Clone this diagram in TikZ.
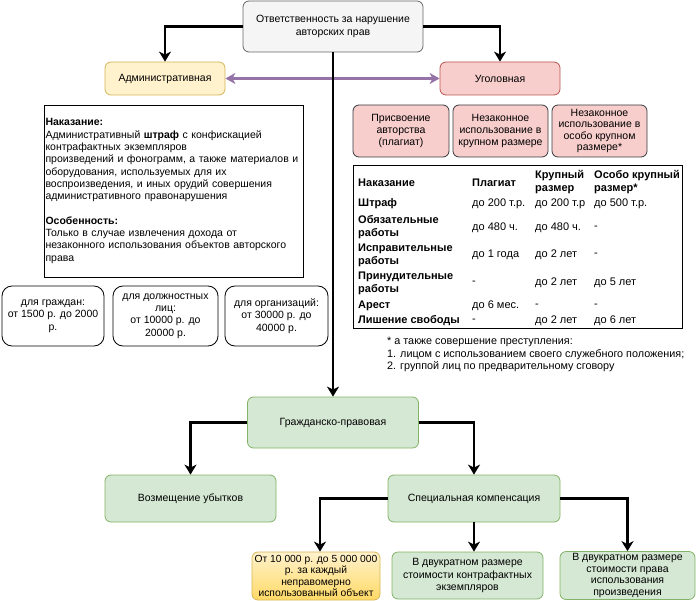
\documentclass[tikz,border=0pt]{standalone}
\usepackage{fontspec}
\setmainfont{Liberation Sans}
\usetikzlibrary{arrows.meta}
\definecolor{grayfill}{HTML}{F5F5F5}
\definecolor{grayline}{HTML}{666666}
\definecolor{yelfill}{HTML}{FFF2CC}
\definecolor{yelline}{HTML}{D6B656}
\definecolor{yeldark}{HTML}{FFD966}
\definecolor{redfill}{HTML}{F8CECC}
\definecolor{redline}{HTML}{B85450}
\definecolor{darkline}{HTML}{36393D}
\definecolor{grnfill}{HTML}{D5E8D4}
\definecolor{grnline}{HTML}{82B366}
\definecolor{purp}{HTML}{9673A6}
\begin{document}
\begin{tikzpicture}[x=1pt,y=-1pt,
  font=\fontsize{10.5}{12.3}\selectfont,
  box/.style={draw, rounded corners=6pt, align=center, inner sep=2pt, line width=0.8pt},
  wbox/.style={draw=black, fill=white, rounded corners=10pt, align=center, inner sep=2pt, line width=0.8pt},
  cell/.style={anchor=west, inner sep=0pt, align=left, font=\fontsize{11}{13}\selectfont},
  bcell/.style={cell, font=\fontsize{11}{13}\selectfont\bfseries},
  arr/.style={draw=black, line width=2.2pt, -{Stealth[length=10pt,width=12pt,inset=3pt]}},
  parr/.style={draw=purp, line width=2.2pt, {Stealth[length=10pt,width=11pt,inset=3pt]}-{Stealth[length=10pt,width=11pt,inset=3pt]}}
]
\useasboundingbox (0,0) rectangle (700,601);

% top level
\node[box, fill=grayfill, draw=grayline, minimum width=180pt, minimum height=51pt] (top) at (333,26.5)
  {Ответственность за нарушение\\авторских прав};
\node[box, fill=yelfill, draw=yelline, minimum width=120pt, minimum height=33pt] (adm) at (165,78.5) {Административная};
\node[box, fill=redfill, draw=redline, minimum width=120pt, minimum height=33pt] (ugol) at (500,78.5) {Уголовная};

% administrative details
\node[draw=black, line width=0.8pt, minimum width=259pt, minimum height=172pt, text width=256pt, align=left, inner sep=1.5pt] (nak) at (173.5,191)
  {\textbf{Наказание:}\\
   Административный \textbf{штраф} с конфискацией\\
   контрафактных экземпляров\\
   произведений и фонограмм, а также материалов и\\
   оборудования, используемых для их\\
   воспроизведения, и иных орудий совершения\\
   административного правонарушения\\[12.3pt]
   \textbf{Особенность:}\\
   Только в случае извлечения дохода от\\
   незаконного использования объектов авторского\\
   права};

\node[wbox, minimum width=102pt, minimum height=60pt] (g1) at (53,316) {для граждан:\\от 1500 р. до 2000\\р.};
\node[wbox, minimum width=105pt, minimum height=60pt] (g2) at (165.5,316) {для должностных\\лиц:\\от 10000 р. до\\20000 р.};
\node[wbox, minimum width=103pt, minimum height=60pt] (g3) at (276.5,316) {для организаций:\\от 30000 р. до\\40000 р.};

% criminal sub-boxes
\node[box, fill=redfill, draw=darkline, minimum width=96pt, minimum height=52pt] (ua) at (401,131) {Присвоение\\авторства\\(плагиат)};
\node[box, fill=redfill, draw=darkline, minimum width=95pt, minimum height=52pt] (ub) at (500.5,131) {Незаконное\\использование в\\крупном размере};
\node[box, fill=redfill, draw=darkline, minimum width=95pt, minimum height=52pt, font=\fontsize{10.5}{11.5}\selectfont] (uc) at (599.5,131) {Незаконное\\использование в\\особо крупном\\размере*};

% table
\node[draw=black, line width=0.8pt, minimum width=329pt, minimum height=163pt] (tbl) at (517.5,246.5) {};
\node[bcell] (h1) at (358,183) {Наказание};
\node[bcell] (h2) at (472,183) {Плагиат};
\node[bcell] (h3) at (535,182.5) {Крупный\\размер};
\node[bcell] (h4) at (594,182.5) {Особо крупный\\размер*};

\node[bcell] (r1) at (358,204) {Штраф};
\node[cell] at (472,204) {до 200 т.р.};
\node[cell] at (535,204) {до 200 т.р};
\node[cell] at (594,204) {до 500 т.р.};

\node[bcell] (r2) at (358,227) {Обязательные\\работы};
\node[cell] at (472,228) {до 480 ч.};
\node[cell] at (535,228) {до 480 ч.};
\node[cell] at (594,228) {-};

\node[bcell] (r3) at (358,255) {Исправительные\\работы};
\node[cell] at (472,255) {до 1 года};
\node[cell] at (535,255) {до 2 лет};
\node[cell] at (594,255) {-};

\node[bcell] (r4) at (358,283) {Принудительные\\работы};
\node[cell] at (472,283) {-};
\node[cell] at (535,283) {до 2 лет};
\node[cell] at (594,283) {до 5 лет};

\node[bcell] (r5) at (358,306) {Арест};
\node[cell] at (472,306) {до 6 мес.};
\node[cell] at (535,306) {-};
\node[cell] at (594,306) {-};

\node[bcell] (r6) at (358,321) {Лишение свободы};
\node[cell] at (472,321) {-};
\node[cell] at (535,321) {до 2 лет};
\node[cell] at (594,321) {до 6 лет};

% footnote
\node[anchor=north west, inner sep=0pt, align=left, font=\fontsize{10.8}{12.5}\selectfont] (fn) at (387,337)
  {* а также совершение преступления:\\
   1. лицом с использованием своего служебного положения;\\
   2. группой лиц по предварительному сговору};

% civil
\node[box, fill=grnfill, draw=grnline, minimum width=171pt, minimum height=51pt] (grazh) at (333,422.5) {Гражданско-правовая};
\node[box, fill=grnfill, draw=grnline, minimum width=171pt, minimum height=47pt] (vozm) at (190.5,498.5) {Возмещение убытков};
\node[box, fill=grnfill, draw=grnline, minimum width=172pt, minimum height=47pt] (spec) at (474,498.5) {Специальная компенсация};

\node[box, top color=yelfill, bottom color=yeldark, draw=yelline, minimum width=128pt, minimum height=48pt, inner sep=1pt, font=\fontsize{10.3}{11.5}\selectfont] (b1) at (316,576) {От 10 000 р. до 5 000 000\\р. за каждый\\неправомерно\\использованный объект};
\node[box, fill=grnfill, draw=grnline, minimum width=151pt, minimum height=47pt] (b2) at (467.5,575.5) {В двукратном размере\\стоимости контрафактных\\экземпляров};
\node[box, fill=grnfill, draw=grnline, minimum width=135pt, minimum height=47pt, font=\fontsize{10.5}{11.5}\selectfont] (b3) at (627.5,575.5) {В двукратном размере\\стоимости права\\использования\\произведения};

% connectors
\draw[parr] (adm.east) -- (ugol.west);
\draw[arr] (top.west) -| (adm.north);
\draw[arr] (top.east) -| (ugol.north);
\draw[arr] (top.south) -- (grazh.north);
\draw[arr] (grazh.west) -| (vozm.north);
\draw[arr] (grazh.east) -| (spec.north);
\draw[arr] (spec.west) -| ([xshift=4pt]b1.north);
\draw[arr] (spec.south) -- (spec.south |- b2.north);
\draw[arr] (spec.east) -| (b3.north);
\end{tikzpicture}
\end{document}
